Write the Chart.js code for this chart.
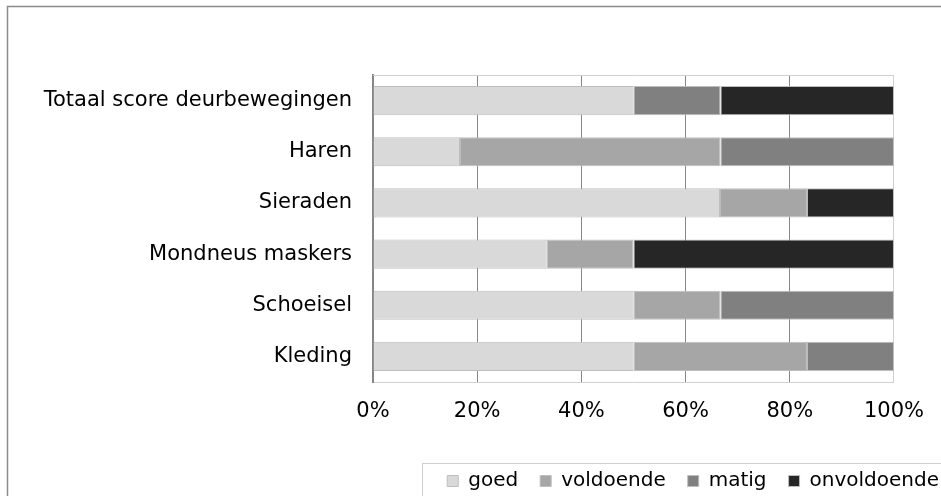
<!DOCTYPE html>
<html>
<head>
<meta charset="utf-8">
<script src="https://cdn.jsdelivr.net/npm/chart.js@4"></script>
<style>
  html, body { margin: 0; padding: 0; background: #fff; }
  #wrap { width: 941px; height: 496px; }
</style>
</head>
<body>
<div id="wrap"><canvas id="scoreChart" width="941" height="496"></canvas></div>
<script>
        // --- Data (percent per category, top to bottom) ---
        const categories = ['Totaal score deurbewegingen', 'Haren', 'Sieraden', 'Mondneus maskers', 'Schoeisel', 'Kleding'];
        const goed        = [50.0, 16.7, 66.6, 33.3, 50.0, 50.0];
        const voldoende   = [0.0, 50.0, 16.7, 16.7, 16.7, 33.3];
        const matig       = [16.7, 33.3, 0.0, 0.0, 33.3, 16.7];
        const onvoldoende = [33.3, 0.0, 16.7, 50.0, 0.0, 0.0];
        const xTicks = [0, 20, 40, 60, 80, 100];

        const FONT = 'DejaVu Sans';

        // frame around the whole chart, legend box and plot top line
        const framePlugin = {
            id: 'frames',
            afterLayout(chart) {
                // legend sits further right than the plot's right padding allows
                const lg = chart.legend;
                if (lg) { lg.left += 67; lg.right += 67; }
            },
            beforeDraw(chart) {
                const c = chart.ctx;
                c.save();
                c.fillStyle = '#fff';
                c.fillRect(0, 0, chart.width, chart.height);
                c.strokeStyle = '#8c8c8c';
                c.lineWidth = 1.5;
                c.strokeRect(7.5, 6.5, chart.width + 50, chart.height + 50);
                c.restore();
            },
            beforeDatasetsDraw(chart) {
                const a = chart.chartArea, c = chart.ctx;
                c.save();
                c.strokeStyle = '#d0d0d0';
                c.lineWidth = 1;
                c.beginPath();
                c.moveTo(a.left, Math.round(a.top) + 0.5);
                c.lineTo(a.right, Math.round(a.top) + 0.5);
                c.stroke();
                c.restore();
            },
            afterDraw(chart) {
                const lg = chart.legend, c = chart.ctx;
                if (!lg || !lg.legendHitBoxes.length) return;
                const first = lg.legendHitBoxes[0];
                const midY = first.top + first.height / 2;
                c.save();
                c.strokeStyle = '#cfcfcf';
                c.lineWidth = 1;
                c.strokeRect(Math.round(first.left - 25) + 0.5, Math.round(midY - 18) + 0.5, chart.width, 100);
                c.restore();
            }
        };

        const mkSet = (label, data, color) => ({
            label, data,
            backgroundColor: color,
            borderColor: '#bdbdbd',
            borderWidth: 1,
            borderSkipped: false
        });

        const ctx = document.getElementById('scoreChart').getContext('2d');

        new Chart(ctx, {
            type: 'bar',
            data: {
                labels: categories,
                datasets: [
                    mkSet('goed', goed, '#d9d9d9'),
                    mkSet('voldoende', voldoende, '#a6a6a6'),
                    mkSet('matig', matig, '#808080'),
                    mkSet('onvoldoende', onvoldoende, '#262626')
                ]
            },
            plugins: [framePlugin],
            options: {
                indexAxis: 'y',
                responsive: false,
                animation: false,
                events: [],
                datasets: { bar: { categoryPercentage: 1, barPercentage: 0.57 } },
                layout: { padding: { top: 75, left: 7, right: 47, bottom: -5 } },
                scales: {
                    x: {
                        stacked: true,
                        min: 0,
                        max: 100,
                        afterBuildTicks: (s) => { s.ticks = xTicks.map(v => ({ value: v })); },
                        afterFit: (s) => { s.height = 67; },
                        ticks: {
                            callback: (v) => v + '%',
                            color: '#000',
                            padding: 17,
                            maxRotation: 0,
                            font: { family: FONT, size: 21 }
                        },
                        grid: {
                            drawTicks: false,
                            lineWidth: 1,
                            color: (c) => c.tick && c.tick.value === 100 ? '#d0d0d0' : '#868686'
                        },
                        border: { display: true, color: '#d0d0d0', width: 1 }
                    },
                    y: {
                        stacked: true,
                        afterFit: (s) => { s.width = 373 - 7; },
                        ticks: {
                            color: '#000',
                            padding: 21,
                            font: { family: FONT, size: 21 }
                        },
                        grid: { display: false, drawTicks: false },
                        border: { display: true, color: '#868686', width: 2 }
                    }
                },
                plugins: {
                    tooltip: { enabled: false },
                    legend: {
                        position: 'bottom',
                        align: 'end',
                        labels: {
                            color: '#000',
                            boxWidth: 11,
                            boxHeight: 11,
                            padding: 22,
                            font: { family: FONT, size: 20 }
                        }
                    }
                }
            }
        });
</script>
</body>
</html>
